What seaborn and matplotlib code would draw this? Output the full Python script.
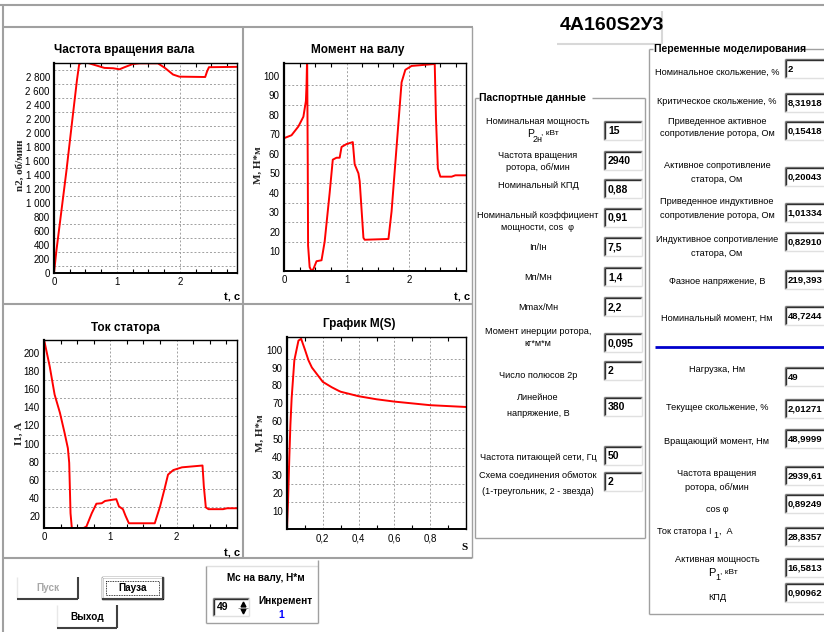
import numpy as np
import pandas as pd
import matplotlib
matplotlib.use("Agg")
import matplotlib.pyplot as plt
import seaborn as sns
from matplotlib.patches import Rectangle
from matplotlib.ticker import FixedLocator, FuncFormatter

sns.set_style("white")
plt.rcParams['font.family'] = ['Liberation Sans', 'DejaVu Sans']
plt.rcParams['axes.unicode_minus'] = False

# === Данные графиков ===
t_speed = [0, 0.037, 0.196, 0.30, 0.365, 0.40, 0.45, 0.54, 0.67, 0.80, 0.94, 1.04, 1.12,
           1.25, 1.36, 1.65, 1.76, 1.89, 1.99, 2.40, 2.43, 2.46, 2.90]
n2 = [0, 310, 1450, 2260, 2760, 2985, 3005, 3000, 2965, 2930, 2925, 2910, 2940,
      2985, 2995, 2995, 2930, 2835, 2805, 2800, 2880, 2940, 2945]

t_torque = [0, 0.12, 0.23, 0.31, 0.35, 0.36, 0.37, 0.38, 0.385, 0.41, 0.44, 0.47, 0.52, 0.60,
            0.65, 0.73, 0.78, 0.84, 0.89, 0.92, 1.0, 1.1, 1.13, 1.19, 1.21, 1.27, 1.29,
            1.67, 1.72, 1.83, 1.88, 1.94, 2.04, 2.41, 2.43, 2.46, 2.50, 2.68, 2.74, 2.91]
m_shaft = [68, 69.5, 74, 79, 87, 95, 110, 53, 13, 2, 0, 1, 5, 5.5,
           15, 40, 57, 58, 58, 63.5, 65, 66, 54.6, 50, 46, 17, 16,
           16.4, 30.5, 76, 96.6, 103, 105, 106, 78, 52.5, 48.3, 48.3, 49, 49]

t_current = [0, 0.086, 0.16, 0.24, 0.31, 0.36, 0.38, 0.40, 0.42, 0.59, 0.64, 0.72, 0.79,
             0.87, 0.92, 1.0, 1.09, 1.13, 1.19, 1.23, 1.28, 1.67, 1.75, 1.82, 1.87, 1.95,
             2.08, 2.39, 2.41, 2.44, 2.48, 2.70, 2.76, 2.91]
i1 = [214.7, 185, 154, 134, 112, 95, 79, 23.5, 7, 7, 9, 23.5, 34,
      34.5, 37, 38, 39, 31, 28, 20.6, 12.5, 12.5, 31, 51, 66, 71,
      74, 76, 53, 30, 28, 28, 29, 29]

s_slip = [0, 0.006, 0.013, 0.019, 0.026, 0.041, 0.064, 0.079, 0.10, 0.12, 0.139, 0.2,
          0.25, 0.289, 0.3, 0.4, 0.5, 0.6, 0.7, 0.8, 0.9, 1.0]
m_s = [0, 16, 40, 58, 73, 94, 105, 106, 100, 94, 90, 82,
       79, 77, 76.5, 74, 72.3, 71, 70, 69, 68.5, 68]

# === Паспортные данные ===
pasp_labels = [["Номинальная мощность", None], ["Частота вращения", "ротора, об/мин"],
               ["Номинальный КПД"], ["Номинальный коэффициент", "мощности, cos  φ"],
               ["Iп/Iн"], ["Мп/Мн"], ["Mmax/Мн"], ["Момент инерции ротора,", "кг*м*м"],
               ["Число полюсов 2р"], ["Линейное", "напряжение, В"],
               ["Частота питающей сети, Гц"], ["Схема соединения обмоток", "(1-треугольник, 2 - звезда)"]]
pasp_values = ["15", "2940", "0,88", "0,91", "7,5", "1,4", "2,2", "0,095", "2", "380", "50", "2"]

var_labels = [["Номинальное скольжение, %"], ["Критическое скольжение, %"],
              ["Приведенное активное", "сопротивление ротора, Ом"],
              ["Активное сопротивление", "статора, Ом"],
              ["Приведенное индуктивное", "сопротивление ротора, Ом"],
              ["Индуктивное сопротивление", "статора, Ом"],
              ["Фазное напряжение, В"], ["Номинальный момент, Нм"]]
var_values = ["2", "8,31918", "0,15418", "0,20043", "1,01334", "0,82910", "219,393", "48,7244"]

cur_labels = [["Нагрузка, Нм"], ["Текущее скольжение, %"], ["Вращающий момент, Нм"],
              ["Частота вращения", "ротора, об/мин"], ["cos φ"], [None],
              ["Активная мощность", None], ["КПД"]]
cur_values = ["49", "2,01271", "48,9999", "2939,61", "0,89249", "28,8357", "16,5813", "0,90962"]

W, H = 824, 632
fig = plt.figure(figsize=(W / 100, H / 100), dpi=100)
fig.patch.set_facecolor('white')

bg = fig.add_axes([0, 0, 1, 1])
bg.set_xlim(0, W)
bg.set_ylim(H, 0)
bg.axis('off')

GRAY = '#a0a0a0'
LAB = 6.6


def line(x0, y0, x1, y1, c=GRAY, lw=1.0):
    bg.plot([x0, x1], [y0, y1], color=c, lw=lw, solid_capstyle='butt')


def txt(x, y, s, size=LAB, weight='normal', ha='center', color='black', family=None):
    kw = {}
    if family:
        kw['family'] = family
    bg.text(x, y, s, fontsize=size, fontweight=weight, ha=ha, va='center', color=color, **kw)


def edit_box(x0, y0, x1, y1, value, size=7.5, pad=4):
    bg.add_patch(Rectangle((x0, y0), x1 - x0, y1 - y0, facecolor='white', edgecolor='none'))
    line(x0, y0, x1, y0, '#808080', 1.0)
    line(x0, y0, x0, y1, '#808080', 1.0)
    line(x0 + 1, y0 + 1, x1 - 1, y0 + 1, '#303030', 1.0)
    line(x0 + 1, y0 + 1, x0 + 1, y1 - 1, '#303030', 1.0)
    line(x0, y1, x1, y1, '#e0e0e0', 1.0)
    line(x1, y0, x1, y1, '#e0e0e0', 1.0)
    txt(x0 + pad, (y0 + y1) / 2 + 0.5, value, size=size, weight='bold', ha='left')


def button(x0, y0, x1, y1, label, color='black', focus=False):
    line(x0, y0, x1, y0, '#ffffff', 1.0)
    line(x0, y0, x0, y1, '#e8e8e8', 1.0)
    line(x0, y1, x1, y1, '#404040', 1.5)
    line(x1, y0, x1, y1, '#404040', 1.5)
    if focus:
        bg.add_patch(Rectangle((x0, y0), x1 - x0, y1 - y0, facecolor='none', edgecolor='black', lw=1.0))
        bg.add_patch(Rectangle((x0 + 4, y0 + 4), x1 - x0 - 8, y1 - y0 - 8, facecolor='none',
                               edgecolor='black', lw=0.6, ls=(0, (1, 1))))
    txt((x0 + x1) / 2, (y0 + y1) / 2, label, size=7.2, weight='bold', color=color)


# === Рамки окна и панелей ===
line(0, 5, W, 5, GRAY, 1.5)
line(3, 5, 3, H, GRAY, 1.5)
line(3, 27, 473, 27, GRAY, 1.5)
line(243.5, 27, 243.5, 558, GRAY, 1.5)
line(472, 27, 472, 558, GRAY, 1.0)
line(3, 304, 472, 304, GRAY, 1.5)
line(3, 558, 472, 558, GRAY, 1.5)

# заголовок двигателя
txt(612, 25, "4А160S2У3", size=14, weight='bold')
line(662, 11, 662, 44, '#d8d8d8', 1.5)
line(557, 44, 662, 44, '#d8d8d8', 1.5)

# === Графики ===
panels = [
    dict(rect=(54, 63, 237, 273), x=t_speed, y=n2, xlim=(0, 2.905), ylim=(0, 3000),
         yt=list(range(0, 2801, 200)), yg=list(range(100, 2901, 200)),
         xt=[0, 1, 2], xg=[1, 2], title="Частота вращения вала", tpos=(124, 50),
         ylab="n2, об/мин", ylpos=(20, 165), xlab="t, с", xlpos=(232, 298)),
    dict(rect=(284, 63, 466, 271), x=t_torque, y=m_shaft, xlim=(0, 2.91), ylim=(0, 106.5),
         yt=list(range(10, 101, 10)), yg=list(range(15, 96, 10)),
         xt=[0, 1, 2], xg=[1, 2], title="Момент на валу", tpos=(358, 50),
         ylab="М, Н*м", ylpos=(258, 165), xlab="t, с", xlpos=(462, 298)),
    dict(rect=(44, 340, 237, 528), x=t_current, y=i1, xlim=(0, 2.91), ylim=(7.3, 214),
         yt=list(range(20, 201, 20)), yg=list(range(30, 191, 20)),
         xt=[0, 1, 2], xg=[1, 2], title="Ток статора", tpos=(125, 328),
         ylab="I1, А", ylpos=(19, 433), xlab="t, с", xlpos=(232, 554)),
    dict(rect=(287, 337, 466, 529), x=s_slip, y=m_s, xlim=(0, 1.0), ylim=(0, 107),
         yt=list(range(10, 101, 10)), yg=list(range(15, 96, 10)),
         xt=[0.2, 0.4, 0.6, 0.8], xg=[0.2, 0.4, 0.6, 0.8], title="График M(S)", tpos=(359, 324),
         ylab="М, Н*м", ylpos=(260, 433), xlab="S", xlpos=(465, 547)),
]

for p in panels:
    l, t, r, b = p['rect']
    ax = fig.add_axes([l / W, 1 - b / H, (r - l) / W, (b - t) / H])
    ax.set_facecolor('white')
    df = pd.DataFrame({'x': p['x'], 'y': p['y']})
    sns.lineplot(data=df, x='x', y='y', ax=ax, color='#ff0000', lw=1.4, sort=False,
                 estimator=None)
    ax.set_xlim(*p['xlim'])
    ax.set_ylim(*p['ylim'])
    for yv in p['yg']:
        ax.axhline(yv, color=GRAY, lw=0.7, ls=(0, (2, 2)), zorder=0)
    for xv in p['xg']:
        ax.axvline(xv, color=GRAY, lw=0.7, ls=(0, (2, 2)), zorder=0)
    ax.yaxis.set_major_locator(FixedLocator(p['yt']))
    ax.xaxis.set_major_locator(FixedLocator(p['xt']))
    ax.yaxis.set_major_formatter(FuncFormatter(lambda v, pos: f"{int(v):,}".replace(',', ' ')))
    ax.xaxis.set_major_formatter(FuncFormatter(
        lambda v, pos: (f"{v:g}".replace('.', ',')) if v != int(v) else str(int(v))))
    ax.set_xticks(np.arange(0, p['xlim'][1], 0.25 if p['xlim'][1] > 1.5 else 0.1), minor=True)
    ax.tick_params(axis='both', labelsize=7, length=0, pad=3, colors='black')
    ax.tick_params(axis='x', which='minor', direction='in', length=3, width=0.8,
                   top=True, bottom=True, color='black')
    for sp in ax.spines.values():
        sp.set_color('black')
        sp.set_linewidth(1.0)
        sp.set_visible(True)
    ax.spines['left'].set_linewidth(1.6)
    ax.spines['bottom'].set_linewidth(1.4)
    ax.set_xlabel('')
    ax.set_ylabel('')
    txt(p['tpos'][0], p['tpos'][1], p['title'], size=8.5, weight='bold')
    bg.text(p['ylpos'][0], p['ylpos'][1], p['ylab'], rotation=90, fontsize=8, fontweight='bold',
            family='Liberation Serif', ha='center', va='center')
    txt(p['xlpos'][0], p['xlpos'][1], p['xlab'], size=8, weight='bold',
        family='Liberation Serif' if p['xlab'] == 'S' else None)

# === Паспортные данные ===
line(475, 98, 479, 98)
line(592, 98, 645, 98)
line(475, 98, 475, 538)
line(645, 98, 645, 538)
line(475, 538, 645, 538)
txt(479, 98, "Паспортные данные", size=7.5, weight='bold', ha='left')

pasp_rows = [(121, 133, 130), (156, 167, 160), (185, None, 188), (215, 228, 217),
             (247, None, 246), (277, None, 276), (307, None, 306), (331, 343, 342),
             (376, None, 370), (398, 413, 406), (457, None, 455), (476, 492, 481)]
for lab, row, val in zip(pasp_labels, pasp_rows, pasp_values):
    y1, y2, yv = row
    if lab[0]:
        txt(538, y1, lab[0])
    if len(lab) > 1 and lab[1]:
        txt(538, y2, lab[1])
    edit_box(604, yv - 9, 642, yv + 10, val)
# P2н, кВт
txt(527, 134, "P", size=7.5, ha='left')
txt(533, 139, "2н", size=6.5, ha='left')
txt(541, 133, ", кВт", size=6, ha='left')

# === Переменные моделирования ===
line(649, 49, 653, 49)
line(797, 49, W, 49)
line(649, 49, 649, 614)
line(649, 614, W, 614)
txt(654, 49, "Переменные моделирования", size=7.5, weight='bold', ha='left')

var_rows = [(72, None, 68), (101, None, 102), (121, 134, 130), (166, 180, 176),
            (202, 215, 212), (240, 254, 241), (282, None, 279), (318, None, 315)]
for lab, row, val in zip(var_labels, var_rows, var_values):
    y1, y2, yv = row
    txt(717, y1, lab[0])
    if len(lab) > 1:
        txt(717, y2, lab[1])
    edit_box(785, yv - 9, 830, yv + 10, val, size=6.8, pad=2.5)

line(655, 347, W, 347, '#0000cc', 2.0)

cur_rows = [(370, None, 376), (408, None, 408), (441, None, 438), (473, 487, 475),
            (509, None, 503), (531, None, 536), (559, None, 567), (597, None, 592)]
for lab, row, val in zip(cur_labels, cur_rows, cur_values):
    y1, y2, yv = row
    if lab[0]:
        txt(717, y1, lab[0])
    if len(lab) > 1 and lab[1]:
        txt(717, y2, lab[1])
    edit_box(785, yv - 9, 830, yv + 10, val, size=6.8, pad=2.5)
# Ток статора I1, A
txt(712, 531, "Ток статора I", ha='right')
txt(713, 535, "1", size=6.5, ha='left')
txt(719, 531, ",  А", ha='left')
# P1, кВт
txt(708, 573, "P", size=8, ha='left')
txt(715, 577, "1", size=6.5, ha='left')
txt(720, 572, ", кВт", size=6, ha='left')

# === Кнопки и панель нагрузки ===
button(17, 577, 78, 599, "Пуск", color='#a8a8a8')
button(102, 577, 163, 599, "Пауза", focus=True)
button(57, 605, 117, 628, "Выход")

line(206, 566, 318, 566, '#e0e0e0', 1.0)
line(206, 566, 206, 623, GRAY, 1.0)
line(206, 623, 318, 623, GRAY, 1.0)
line(318, 560, 318, 623, GRAY, 1.0)
txt(266, 578, "Мс на валу, Н*м", size=7.2, weight='bold')
edit_box(213, 598, 249, 616, "49")
bg.plot([243], [604], marker='^', color='black', ms=3.5)
bg.plot([243], [611], marker='v', color='black', ms=3.5)
line(238, 607.5, 248, 607.5, '#808080', 0.6)
txt(285, 601, "Инкремент", size=7.2, weight='bold')
txt(281, 615, "1", size=7.5, weight='bold', color='#0000ff')

fig.savefig("out.png", dpi=100, facecolor='white')
